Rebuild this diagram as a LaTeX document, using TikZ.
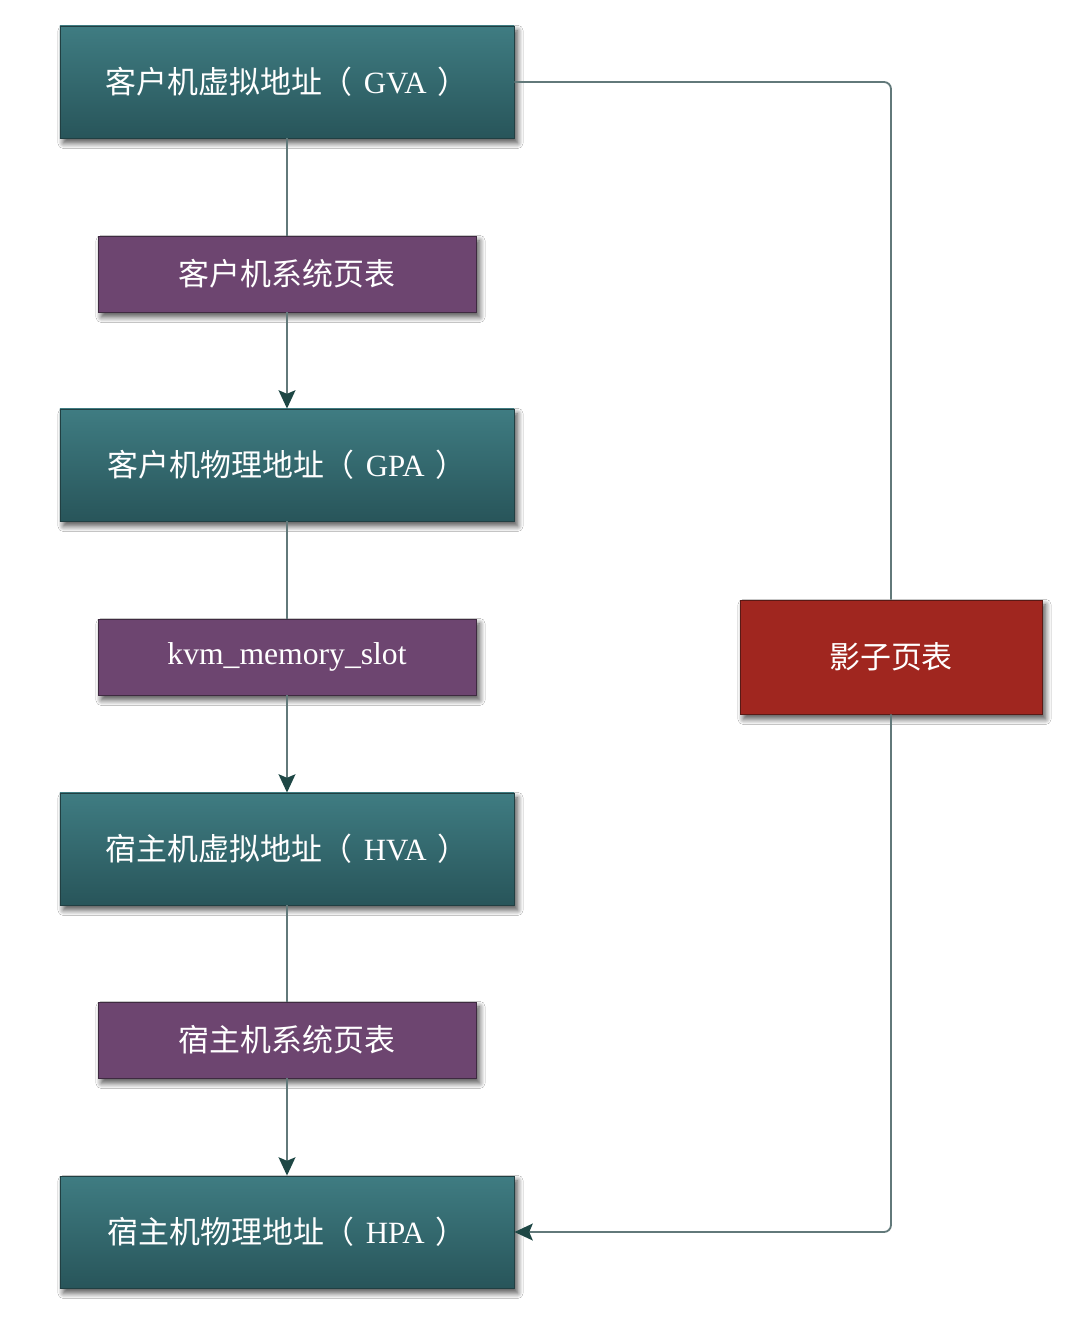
\documentclass[tikz,border=0pt]{standalone}
\usepackage{fontspec}
\setmainfont{Liberation Serif}
\newfontfamily\cjk{Noto Sans CJK SC}
\usetikzlibrary{arrows.meta,shadows.blur}

\definecolor{tealtop}{HTML}{3F7C82}
\definecolor{tealbot}{HTML}{28555A}
\definecolor{tealedge}{HTML}{213F42}
\definecolor{plum}{HTML}{6D4570}
\definecolor{plumedge}{HTML}{3E2A40}
\definecolor{brick}{HTML}{A0261F}
\definecolor{brickedge}{HTML}{5A1915}
\definecolor{wire}{HTML}{62797A}
\definecolor{tip}{HTML}{1E4745}

\newcommand{\addr}[2]{#1（\hspace{0.35em}{\rmfamily #2}\hspace{0.35em}）}

\tikzset{
  box/.style={draw, line width=0.6pt, text=white, inner sep=0pt,
    font=\cjk\fontsize{22}{26}\selectfont,
    blur shadow={shadow xshift=2.5pt, shadow yshift=-3.5pt, shadow blur steps=10,
      shadow blur radius=4pt, shadow opacity=70}},
  addrbox/.style={box, draw=tealedge, top color=tealtop, bottom color=tealbot,
    minimum width=11.35cm, minimum height=2.8cm},
  tablebox/.style={box, draw=plumedge, fill=plum,
    minimum width=9.45cm, minimum height=1.9cm},
  shadowbox/.style={box, draw=brickedge, fill=brick,
    minimum width=7.55cm, minimum height=2.85cm},
  link/.style={draw=wire, line width=1.3pt},
  arrowlink/.style={link, -{Stealth[length=13pt, width=12pt, inset=2.5pt, color=tip]}},
}

\begin{document}
\begin{tikzpicture}[x=0.025cm, y=-0.025cm]
  \useasboundingbox[fill=white] (0,0) rectangle (1086,1324);

  % address spaces
  \node[addrbox] (gva) at (287,82)   {\addr{客户机虚拟地址}{GVA}};
  \node[addrbox] (gpa) at (287,465)  {\addr{客户机物理地址}{GPA}};
  \node[addrbox] (hva) at (287,849)  {\addr{宿主机虚拟地址}{HVA}};
  \node[addrbox] (hpa) at (287,1232) {\addr{宿主机物理地址}{HPA}};

  % translation tables
  \node[tablebox] (gpt) at (287,274)  {客户机系统页表};
  \node[tablebox, font=\rmfamily\fontsize{22.5}{26}\selectfont] (slot) at (287,657) {kvm\_memory\_slot};
  \node[tablebox] (hpt) at (287,1040) {宿主机系统页表};

  % shadow page table
  \node[shadowbox] (spt) at (891,657) {影子页表};

  % main chain
  \draw[link] (gva.south) -- (gpt.north);
  \draw[arrowlink] (gpt.south) -- (gpa.north);
  \draw[link] (gpa.south) -- (slot.north);
  \draw[arrowlink] (slot.south) -- (hva.north);
  \draw[link] (hva.south) -- (hpt.north);
  \draw[arrowlink] (hpt.south) -- (hpa.north);

  % shortcut through the shadow page table
  \draw[link, rounded corners=5pt] (gva.east) -| (spt.north);
  \draw[arrowlink, rounded corners=5pt] (spt.south) |- (hpa.east);
\end{tikzpicture}
\end{document}
